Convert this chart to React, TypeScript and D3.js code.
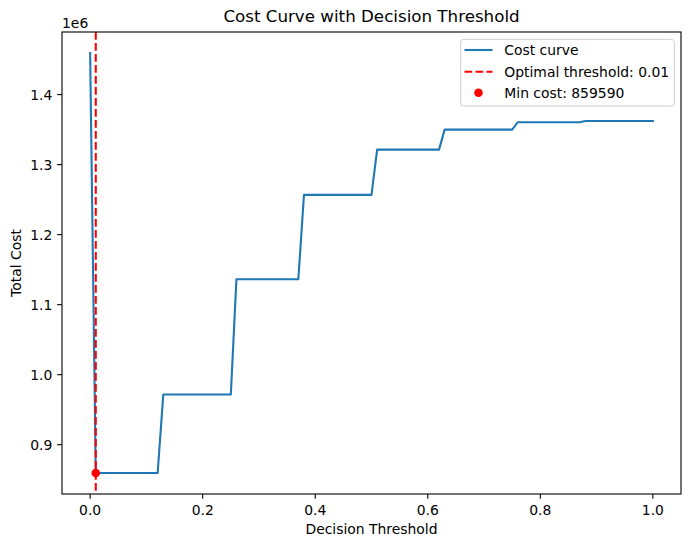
import React from "react";
import * as d3 from "d3";

const thresholds = [0, 0.01, 0.12, 0.13, 0.25, 0.26, 0.37, 0.38, 0.5, 0.51, 0.62, 0.63, 0.75, 0.76, 0.87, 0.88, 1.0];
const costs = [1459400, 859590, 859590, 971800, 971800, 1136400, 1136400, 1256800, 1256800, 1321400, 1321400, 1350000, 1350000, 1360600, 1360600, 1362400, 1362400];
const optimalThreshold = 0.01;
const minCost = 859590;
const xTicks = [0, 0.2, 0.4, 0.6, 0.8, 1.0];
const yTicks = [900000, 1000000, 1100000, 1200000, 1300000, 1400000];

const W = 691, H = 547;
const L = 62, R = 681, T = 32, B = 494;
const FONT = "DejaVu Sans, Verdana, sans-serif";
const BLUE = "#1f77b4";

export default function App() {
  const xmin = d3.min(thresholds)!, xmax = d3.max(thresholds)!;
  const xr = xmax - xmin;
  const x = d3.scaleLinear().domain([xmin - 0.05 * xr, xmax + 0.05 * xr]).range([L, R]);
  const ymin = d3.min(costs)!, ymax = d3.max(costs)!;
  const yr = ymax - ymin;
  const y = d3.scaleLinear().domain([ymin - 0.05 * yr, ymax + 0.05 * yr]).range([B, T]);
  const pts = thresholds.map((t, i) => [t, costs[i]] as [number, number]);
  const line = d3.line<[number, number]>().x(d => x(d[0])).y(d => y(d[1]));
  const tickLen = 4.86;

  return (
    <svg width={W} height={H} style={{ position: "absolute", left: 0, top: 0, background: "#fff" }} fontFamily={FONT}>
      <rect x={0} y={0} width={W} height={H} fill="#fff" />
      <defs>
        <clipPath id="plotclip">
          <rect x={L} y={T} width={R - L} height={B - T} />
        </clipPath>
      </defs>
      <g clipPath="url(#plotclip)">
        <path d={line(pts)!} fill="none" stroke={BLUE} strokeWidth={2.08} strokeLinejoin="round" strokeLinecap="square" />
        <line x1={x(optimalThreshold)} x2={x(optimalThreshold)} y1={T} y2={B} stroke="red" strokeWidth={2.08} strokeDasharray="7.7,3.3" />
        <circle cx={x(optimalThreshold)} cy={y(minCost)} r={4.3} fill="red" />
      </g>
      {/* spines */}
      <rect x={L} y={T} width={R - L} height={B - T} fill="none" stroke="#000" strokeWidth={1.1} />
      {/* x ticks */}
      {xTicks.map(t => (
        <g key={"x" + t}>
          <line x1={x(t)} x2={x(t)} y1={B} y2={B + tickLen} stroke="#000" strokeWidth={1.1} />
          <text x={x(t)} y={514.5} textAnchor="middle" fontSize={13.9} fill="#000">{t.toFixed(1)}</text>
        </g>
      ))}
      {/* y ticks */}
      {yTicks.map(t => (
        <g key={"y" + t}>
          <line x1={L - tickLen} x2={L} y1={y(t)} y2={y(t)} stroke="#000" strokeWidth={1.1} />
          <text x={L - tickLen - 4.86} y={y(t) + 5} textAnchor="end" fontSize={13.9} fill="#000">{(t / 1e6).toFixed(1)}</text>
        </g>
      ))}
      <text x={L} y={28} fontSize={13.9} fill="#000">1e6</text>
      <text x={(L + R) / 2} y={534} textAnchor="middle" fontSize={13.9} fill="#000">Decision Threshold</text>
      <text transform={`translate(21,${(T + B) / 2}) rotate(-90)`} textAnchor="middle" fontSize={13.9} fill="#000">Total Cost</text>
      <text x={(L + R) / 2} y={22} textAnchor="middle" fontSize={16.7} fill="#000">Cost Curve with Decision Threshold</text>
      {/* legend */}
      <g>
        <rect x={460.7} y={39.3} width={213.6} height={66.7} rx={3} fill="#fff" fillOpacity={0.8} stroke="#cccccc" strokeWidth={1} />
        <line x1={464.5} x2={492.5} y1={50} y2={50} stroke={BLUE} strokeWidth={2.08} />
        <text x={504.3} y={55} fontSize={13.9} fill="#000">Cost curve</text>
        <line x1={464.5} x2={492.5} y1={71.7} y2={71.7} stroke="red" strokeWidth={2.08} strokeDasharray="7.7,3.3" />
        <text x={504.3} y={76.7} fontSize={13.9} fill="#000">Optimal threshold: 0.01</text>
        <circle cx={478.5} cy={92.7} r={4.3} fill="red" />
        <text x={504.3} y={97.7} fontSize={13.9} fill="#000">Min cost: 859590</text>
      </g>
    </svg>
  );
}
